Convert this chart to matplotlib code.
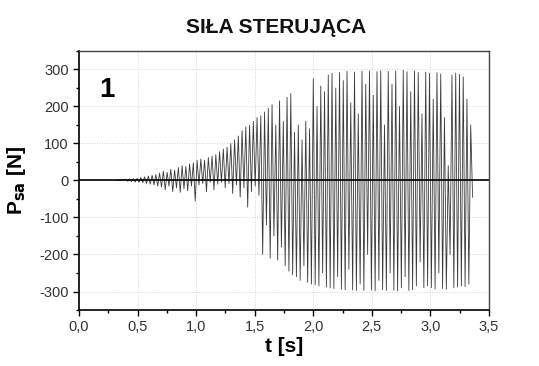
import numpy as np
import matplotlib.pyplot as plt
from matplotlib.ticker import MultipleLocator

plt.rcParams["font.family"] = ["Liberation Sans", "DejaVu Sans"]

# cycle extrema (one max and one min per cycle)
T_START, T_END = 0.40, 3.344
p_max = [
    3, 4, 5, 6, 8, 10, 12, 14, 16, 20,
    25, 22, 30, 28, 35, 40, 38, 45, 48, 55,
    58, 55, 62, 66, 70, 78, 85, 90, 100, 110,
    120, 135, 145, 150, 160, 170, 175, 185, 195, 205,
    150, 215, 160, 225, 235, 130, 150, 110, 160, 140,
    275, 200, 255, 240, 285, 290, 250, 292, 270, 295,
    210, 293, 180, 295, 260, 296, 230, 294, 297, 150,
    295, 260, 296, 200, 298, 294, 240, 296, 292, 180,
    293, 290, 220, 291, 288, 170, 40, 285, 290, 287,
    280, 220, 150,
]
p_min = [
    -2, -3, -4, -5, -6, -8, -10, -12, -15, -18,
    -25, -15, -30, -20, -32, -22, -28, -15, -56, -12,
    -8, -30, -5, -25, -10, -5, -20, -8, -35, -12,
    -45, -20, -72, -30, -15, -40, -200, -120, -210, -150,
    -215, -180, -230, -245, -255, -260, -270, -230, -275, -280,
    -282, -285, -250, -288, -290, -292, -260, -294, -295, -240,
    -296, -297, -280, -297, -200, -296, -298, -270, -295, -297,
    -250, -296, -298, -290, -260, -297, -295, -285, -220, -290,
    -285, -290, -293, -250, -292, -294, -200, -290, -288, -285,
    -287, -280, -45,
]
x_ticks = [0.0, 0.5, 1.0, 1.5, 2.0, 2.5, 3.0, 3.5]
x_labels = ["0,0", "0,5", "1,0", "1,5", "2,0", "2,5", "3,0", "3,5"]
y_ticks = [-300, -200, -100, 0, 100, 200, 300]
y_labels = ["-300", "-200", "-100", "0", "100", "200", "300"]

# interleave max/min into one trace
n = len(p_max)
t_cyc = np.linspace(T_START, T_END, n)
dt = (T_END - T_START) / (n - 1)
t = np.empty(2 * n)
v = np.empty(2 * n)
t[0::2] = t_cyc
t[1::2] = t_cyc + dt / 2
v[0::2] = p_max
v[1::2] = p_min
t = np.concatenate([[0.32], t])
v = np.concatenate([[0.0], v])

fig = plt.figure(figsize=(5.39, 3.66), dpi=100)
ax = fig.add_axes([0.1466, 0.153, 0.7606, 0.7077])

ax.plot(t, v, color="#3a3a3a", lw=0.6)
ax.axhline(0, color="black", lw=1.2, zorder=3)

ax.set_xlim(0, 3.5)
ax.set_ylim(-350, 350)
ax.set_xticks(x_ticks)
ax.set_xticklabels(x_labels)
ax.set_yticks(y_ticks)
ax.set_yticklabels(y_labels)
ax.xaxis.set_minor_locator(MultipleLocator(0.25))
ax.yaxis.set_minor_locator(MultipleLocator(50))
ax.tick_params(which="both", direction="out", top=False, right=False,
               labelsize=10.5, labelcolor="#333333", width=1)
ax.tick_params(which="major", length=4)
ax.tick_params(which="minor", length=2.5)
ax.grid(True, which="major", ls=(0, (1, 2)), color="#c8c8c8", lw=0.6)

for side in ["left", "bottom"]:
    ax.spines[side].set_linewidth(1.2)
for side in ["top", "right"]:
    ax.spines[side].set_linewidth(1.0)
    ax.spines[side].set_color("#444444")

ax.set_xlabel("t [s]", fontsize=15, fontweight="bold", labelpad=2)
ax.set_ylabel(r"P$_{\mathbf{sa}}$ [N]", fontsize=15, fontweight="bold", labelpad=8)
ax.text(0.17, 245, "1", fontsize=20, fontweight="bold", va="center", ha="left")

fig.text(0.512, 0.926, "SIŁA STERUJĄCA", fontsize=15, fontweight="bold",
         ha="center", va="center", color="#111111")

fig.savefig("out.png", dpi=100)
